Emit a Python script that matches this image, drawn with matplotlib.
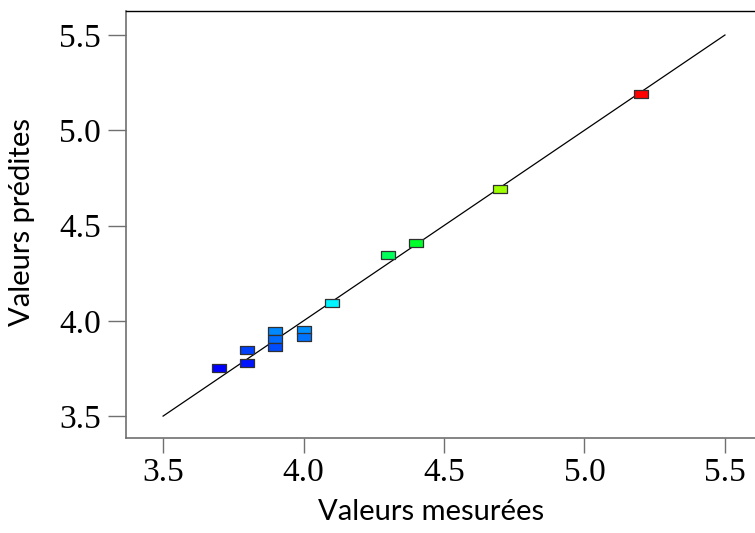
import matplotlib
matplotlib.use("Agg")
import matplotlib.pyplot as plt
import numpy as np

measured = [3.7, 3.8, 3.8, 3.9, 3.9, 3.9, 4.0, 4.0, 4.1, 4.3, 4.4, 4.7, 5.2]
predicted = [3.75, 3.845, 3.78, 3.945, 3.905, 3.86, 3.953, 3.915, 4.095, 4.343, 4.41, 4.693, 5.19]
ticks = [3.5, 4.0, 4.5, 5.0, 5.5]
tick_labels = ["3.5", "4.0", "4.5", "5.0", "5.5"]
xlabel = "Valeurs mesurées"
ylabel = "Valeurs prédites"

W, H = 755, 533
fig = plt.figure(figsize=(W / 100, H / 100), dpi=100)
left, right, top, bottom = 126, 755, 11, 438
ax = fig.add_axes([left / W, 1 - bottom / H, (right - left) / W, (bottom - top) / H])
ax.set_xlim(3.368, 5.607)
ax.set_ylim(3.385, 5.626)

# reference line
ax.plot([3.5, 5.5], [3.5, 5.5], color="black", lw=0.9, zorder=2)

cmap = matplotlib.colors.LinearSegmentedColormap.from_list(
    "de", ["#0000ff", "#00ffff", "#00ff00", "#ffff00", "#ff0000"])
norm = matplotlib.colors.Normalize(vmin=min(predicted), vmax=max(predicted))
rect = [(-1, -0.62), (1, -0.62), (1, 0.62), (-1, 0.62), (-1, -0.62)]
for xm, yp in zip(measured, predicted):
    ax.plot(xm, yp, marker=rect, markersize=9.8, linestyle="none",
            markerfacecolor=cmap(norm(yp)), markeredgecolor="#303030",
            markeredgewidth=0.9, zorder=3)

ax.set_xticks(ticks)
ax.set_xticklabels(tick_labels)
ax.set_yticks(ticks)
ax.set_yticklabels(tick_labels)
for lab in ax.get_xticklabels() + ax.get_yticklabels():
    lab.set_family("Liberation Serif")
    lab.set_fontsize(24)
ax.tick_params(axis="both", direction="out", width=1, color="#707070")
ax.tick_params(axis="x", length=11, pad=3)
ax.tick_params(axis="y", length=13, pad=5)

ax.spines["right"].set_visible(False)
ax.spines["top"].set_color("black")
ax.spines["top"].set_linewidth(1.0)
for s in ("left", "bottom"):
    ax.spines[s].set_color("#707070")
    ax.spines[s].set_linewidth(1.2)

fig.text(431 / W, 1 - 520 / H, xlabel, family="Lato", fontsize=21,
         ha="center", va="baseline")
fig.text(22 / W, 1 - 222 / H, ylabel, family="Lato", fontsize=21,
         ha="center", va="center", rotation=90)

fig.savefig("out.png", dpi=100)
